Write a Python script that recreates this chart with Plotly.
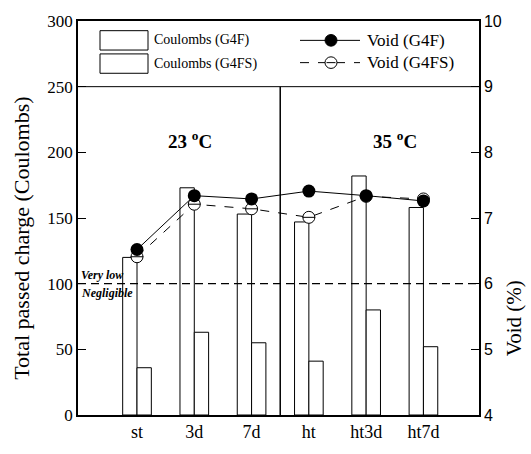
import plotly.graph_objects as go

categories = ["st", "3d", "7d", "ht", "ht3d", "ht7d"]
coulombs_g4f = [120, 173, 153, 147, 182, 158]
coulombs_g4fs = [36, 63, 55, 41, 80, 52]
void_g4f = [6.52, 7.34, 7.29, 7.41, 7.34, 7.26]
void_g4fs = [6.41, 7.21, 7.14, 7.01, 7.33, 7.29]

W, H = 531, 454
L, R, T, B = 78, 479, 15, 422
SERIF = "'Times New Roman', 'Liberation Serif', Times, serif"
SANS = "Arial, 'Liberation Sans', Helvetica, sans-serif"


def px(x):
    return (x - L) / (R - L)


def py(y):
    return (B - y) / (B - T)


fig = go.Figure()
fig.add_trace(go.Bar(x=categories, y=coulombs_g4f, offset=-0.25, width=0.25,
                     marker=dict(color="white", line=dict(color="black", width=1)),
                     showlegend=False, hoverinfo="skip"))
fig.add_trace(go.Bar(x=categories, y=coulombs_g4fs, offset=0.0, width=0.25,
                     marker=dict(color="white", line=dict(color="black", width=1)),
                     showlegend=False, hoverinfo="skip"))
fig.add_trace(go.Scatter(x=categories, y=void_g4fs, yaxis="y2", mode="lines+markers",
                         line=dict(color="black", width=1, dash="dash"),
                         marker=dict(symbol="circle", size=12, color="white",
                                     line=dict(color="black", width=1)),
                         showlegend=False, hoverinfo="skip"))
fig.add_trace(go.Scatter(x=categories, y=void_g4fs, yaxis="y2", mode="markers",
                         marker=dict(symbol="line-ew", size=9,
                                     line=dict(color="black", width=1)),
                         showlegend=False, hoverinfo="skip"))
fig.add_trace(go.Scatter(x=categories, y=void_g4f, yaxis="y2", mode="lines+markers",
                         line=dict(color="black", width=1),
                         marker=dict(symbol="circle", size=13, color="black"),
                         showlegend=False, hoverinfo="skip"))

shapes = [
    dict(type="line", xref="paper", yref="y", x0=0, x1=1, y0=250, y1=250,
         line=dict(color="black", width=1)),
    dict(type="line", xref="x", yref="y", x0=2.5, x1=2.5, y0=0, y1=250,
         line=dict(color="black", width=1.5)),
    dict(type="line", xref="paper", yref="y", x0=0, x1=1, y0=100, y1=100,
         line=dict(color="black", width=1.3, dash="8px,5px")),
    # legend swatches
    dict(type="rect", xref="paper", yref="paper", x0=px(100), x1=px(148), y0=py(45), y1=py(25),
         line=dict(color="black", width=1), fillcolor="white"),
    dict(type="rect", xref="paper", yref="paper", x0=px(100), x1=px(148), y0=py(69), y1=py(49),
         line=dict(color="black", width=1), fillcolor="white"),
    dict(type="line", xref="paper", yref="paper", x0=px(300), x1=px(360), y0=py(35), y1=py(35),
         line=dict(color="black", width=1)),
    dict(type="circle", xref="paper", yref="paper", x0=px(325), x1=px(337), y0=py(41), y1=py(29),
         line=dict(color="black", width=1), fillcolor="black"),
    dict(type="line", xref="paper", yref="paper", x0=px(300), x1=px(360), y0=py(58), y1=py(58),
         line=dict(color="black", width=1, dash="dash")),
    dict(type="circle", xref="paper", yref="paper", x0=px(325), x1=px(337), y0=py(64), y1=py(52),
         line=dict(color="black", width=1), fillcolor="white"),
    dict(type="line", xref="paper", yref="paper", x0=px(326.5), x1=px(335.5), y0=py(58), y1=py(58),
         line=dict(color="black", width=1)),
]

annotations = [
    dict(xref="paper", yref="paper", x=px(152), y=py(35), text="Coulombs (G4F)",
         showarrow=False, xanchor="left", yanchor="middle",
         font=dict(family=SERIF, size=14, color="black")),
    dict(xref="paper", yref="paper", x=px(152), y=py(59), text="Coulombs (G4FS)",
         showarrow=False, xanchor="left", yanchor="middle",
         font=dict(family=SERIF, size=14, color="black")),
    dict(xref="paper", yref="paper", x=px(365), y=py(35), text="Void (G4F)",
         showarrow=False, xanchor="left", yanchor="middle",
         font=dict(family=SERIF, size=17, color="black")),
    dict(xref="paper", yref="paper", x=px(365), y=py(58), text="Void (G4FS)",
         showarrow=False, xanchor="left", yanchor="middle",
         font=dict(family=SERIF, size=17, color="black")),
    dict(xref="paper", yref="paper", x=px(190), y=py(138), text="<b>23 <sup>o</sup>C</b>",
         showarrow=False, xanchor="center", yanchor="middle",
         font=dict(family=SERIF, size=19, color="black")),
    dict(xref="paper", yref="paper", x=px(395), y=py(138), text="<b>35 <sup>o</sup>C</b>",
         showarrow=False, xanchor="center", yanchor="middle",
         font=dict(family=SERIF, size=19, color="black")),
    dict(xref="paper", yref="y", x=0.003, y=100, text="<b><i>Very low</i></b>",
         showarrow=False, xanchor="left", yanchor="bottom",
         font=dict(family=SERIF, size=12, color="black")),
    dict(xref="paper", yref="y", x=0.003, y=100, text="<b><i>Negligible</i></b>",
         showarrow=False, xanchor="left", yanchor="top",
         font=dict(family=SERIF, size=12, color="black")),
    dict(xref="paper", yref="paper", x=px(22), y=py(240), text="Total passed charge (Coulombs)",
         showarrow=False, textangle=-90, xanchor="center", yanchor="middle",
         font=dict(family=SERIF, size=22, color="black")),
    dict(xref="paper", yref="paper", x=px(514), y=py(322), text="Void (%)",
         showarrow=False, textangle=-90, xanchor="center", yanchor="middle",
         font=dict(family=SERIF, size=21, color="black")),
]

fig.update_layout(
    width=W, height=H,
    margin=dict(l=L, r=W - R, t=T, b=H - B, pad=0),
    paper_bgcolor="white", plot_bgcolor="white",
    barmode="overlay",
    showlegend=False,
    shapes=shapes,
    annotations=annotations,
    xaxis=dict(type="category", range=[-1.03, 5.97], showline=True, linecolor="black", linewidth=1.5,
               mirror=True, showgrid=False, zeroline=False, ticks="",
               tickfont=dict(family=SERIF, size=18, color="black")),
    yaxis=dict(range=[0, 300], tickvals=[0, 50, 100, 150, 200, 250, 300],
               showline=True, linecolor="black", linewidth=1.5, showgrid=False, zeroline=False,
               ticks="inside", ticklen=8, tickwidth=1.3, tickcolor="black",
               tickfont=dict(family=SERIF, size=17, color="black")),
    yaxis2=dict(range=[4, 10], tickvals=[4, 5, 6, 7, 8, 9, 10], overlaying="y", side="right",
                showline=True, linecolor="black", linewidth=1.5, showgrid=False, zeroline=False,
                ticks="inside", ticklen=8, tickwidth=1.3, tickcolor="black",
                tickfont=dict(family=SANS, size=16, color="black")),
)

fig.write_html("out.html", config={"displayModeBar": False})
